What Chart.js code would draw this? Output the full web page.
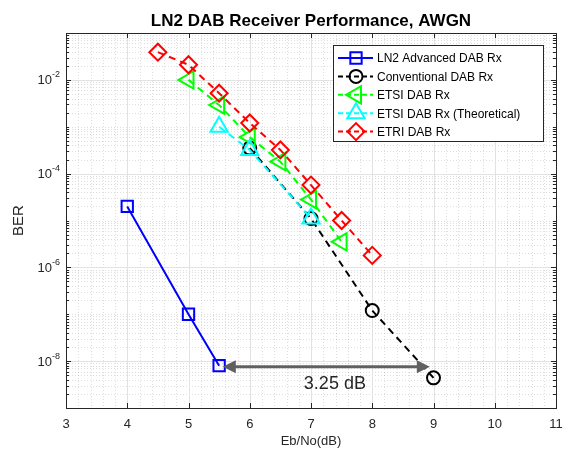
<!DOCTYPE html>
<html>
<head>
<meta charset="utf-8">
<script src="https://cdn.jsdelivr.net/npm/chart.js@4.4.1/dist/chart.umd.min.js"></script>
<style>
  html, body { margin: 0; padding: 0; background: #fff; }
  canvas { display: block; }
</style>
</head>
<body>
<canvas id="grafico" width="564" height="452"></canvas>
<script>
// ── DATOS ──────────────────────────────────────────────
const snrLn2 = [4, 5, 5.5];
const berLn2 = [2e-5, 1e-7, 8e-9];

const snrConv = [6, 7, 8, 9];
const berConv = [3.5e-4, 1.1e-5, 1.2e-7, 4.4e-9];

const snrEtsi = [5, 5.5, 6, 6.5, 7, 7.5];
const berEtsi = [1e-2, 2.9e-3, 6e-4, 1.8e-4, 2.8e-5, 3.5e-6];

const snrTeo = [5.5, 6, 7];
const berTeo = [1e-3, 3.2e-4, 1.1e-5];

const snrEtri = [4.5, 5, 5.5, 6, 6.5, 7, 7.5, 8];
const berEtri = [3.9e-2, 2.1e-2, 5.2e-3, 1.2e-3, 3.2e-4, 5.7e-5, 1e-5, 1.8e-6];

const xTicks = [3, 4, 5, 6, 7, 8, 9, 10, 11];
const yExpLabels = [-8, -6, -4, -2];

// flecha de ganancia
const flechaDesde = 5.56, flechaHasta = 8.94, flechaBer = 7.6e-9;
const textoGanancia = "3.25 dB", textoX = 7.39, textoBer = 3.3e-9;

const titulo = "LN2 DAB Receiver Performance, AWGN";
const FUENTE = "'Liberation Sans', Arial, sans-serif";
const GRIS = "#262626";

const series = [
  { label: "LN2 Advanced DAB Rx",         x: snrLn2,  y: berLn2,  color: "#0000ff", style: "rect",     r: 8,   rot: 0,   dash: [] },
  { label: "Conventional DAB Rx",         x: snrConv, y: berConv, color: "#000000", style: "circle",   r: 6.5, rot: 0,   dash: [7, 5] },
  { label: "ETSI DAB Rx",                 x: snrEtsi, y: berEtsi, color: "#00ff00", style: "triangle", r: 10,  rot: -90, dash: [7, 5] },
  { label: "ETSI DAB Rx (Theoretical)",   x: snrTeo,  y: berTeo,  color: "#00ffff", style: "triangle", r: 10,  rot: 0,   dash: [7, 5] },
  { label: "ETRI DAB Rx",                 x: snrEtri, y: berEtri, color: "#ff0000", style: "rectRot",  r: 8.5, rot: 0,   dash: [7, 5] },
];

const datasets = series.map((s, i) => ({
  label: s.label,
  data: s.x.map((v, k) => ({ x: v, y: s.y[k] })),
  showLine: true,
  borderColor: s.color,
  borderWidth: 2,
  borderDash: s.dash,
  pointStyle: s.style,
  pointRadius: s.r,
  pointRotation: s.rot,
  pointBorderColor: s.color,
  pointBackgroundColor: "rgba(0,0,0,0)",
  pointBorderWidth: 2,
  order: series.length - i,
}));

// ── EJES ESTILO MATLAB ──────────────────────────────────
function linea(ctx, x1, y1, x2, y2) {
  ctx.beginPath(); ctx.moveTo(x1, y1); ctx.lineTo(x2, y2); ctx.stroke();
}

const ejesMatlab = {
  id: "ejesMatlab",
  beforeDatasetsDraw(chart) {
    const { ctx, chartArea: { left, right, top, bottom }, scales: { x, y } } = chart;
    ctx.save();
    ctx.lineWidth = 1;

    // titulo centrado sobre el area
    ctx.fillStyle = "#000";
    ctx.font = "bold 17px " + FUENTE;
    ctx.textAlign = "center";
    ctx.textBaseline = "middle";
    ctx.fillText(titulo, (left + right) / 2, 21);

    // etiquetas del eje x
    ctx.fillStyle = GRIS;
    ctx.font = "13px " + FUENTE;
    xTicks.forEach(v => ctx.fillText(String(v), x.getPixelForValue(v), bottom + 16));

    // etiquetas del eje y con exponente
    ctx.textAlign = "right";
    yExpLabels.forEach(e => {
      const py = y.getPixelForValue(Math.pow(10, e));
      ctx.font = "9px " + FUENTE;
      const exp = "-" + Math.abs(e);
      ctx.fillText(exp, left - 6, py - 5);
      const we = ctx.measureText(exp).width;
      ctx.font = "13px " + FUENTE;
      ctx.fillText("10", left - 6 - we, py + 1);
    });

    // rejilla menor (punteada)
    ctx.strokeStyle = "rgba(0,0,0,0.13)";
    ctx.setLineDash([1, 2]);
    for (let i = 1; i < 40; i++) {
      if (i % 5 === 0) continue;
      const px = Math.round(x.getPixelForValue(3 + i * 0.2)) + 0.5;
      linea(ctx, px, top, px, bottom);
    }
    for (let e = -9; e <= -2; e++) {
      for (let k = 1; k <= 9; k++) {
        if (k === 1 && (e === -9 || e % 2 === 0)) continue;
        const py = Math.round(y.getPixelForValue(k * Math.pow(10, e))) + 0.5;
        linea(ctx, left, py, right, py);
      }
    }

    // rejilla mayor
    ctx.setLineDash([]);
    ctx.strokeStyle = "#e2e2e2";
    xTicks.slice(1, -1).forEach(v => {
      const px = Math.round(x.getPixelForValue(v)) + 0.5;
      linea(ctx, px, top, px, bottom);
    });
    yExpLabels.forEach(e => {
      const py = Math.round(y.getPixelForValue(Math.pow(10, e))) + 0.5;
      linea(ctx, left, py, right, py);
    });

    // marcas hacia dentro
    ctx.strokeStyle = GRIS;
    xTicks.slice(1, -1).forEach(v => {
      const px = Math.round(x.getPixelForValue(v)) + 0.5;
      linea(ctx, px, bottom, px, bottom - 5);
      linea(ctx, px, top, px, top + 5);
    });
    for (let e = -9; e <= -2; e++) {
      for (let k = 1; k <= 9; k++) {
        if (k === 1 && e === -9) continue;
        const largo = (k === 1 && e % 2 === 0) ? 5 : 3;
        const py = Math.round(y.getPixelForValue(k * Math.pow(10, e))) + 0.5;
        linea(ctx, left, py, left + largo, py);
        linea(ctx, right, py, right - largo, py);
      }
    }

    // caja
    ctx.strokeRect(Math.round(left) + 0.5, Math.round(top) + 0.5, Math.round(right - left), Math.round(bottom - top));
    ctx.restore();
  },

  afterDatasetsDraw(chart) {
    const { ctx, scales: { x, y } } = chart;
    ctx.save();

    // flecha doble
    const x1 = x.getPixelForValue(flechaDesde), x2 = x.getPixelForValue(flechaHasta);
    const fy = y.getPixelForValue(flechaBer);
    ctx.strokeStyle = "#606060";
    ctx.fillStyle = "#606060";
    ctx.lineWidth = 3;
    linea(ctx, x1 + 10, fy, x2 - 10, fy);
    ctx.beginPath();
    ctx.moveTo(x1, fy); ctx.lineTo(x1 + 13, fy - 6.5); ctx.lineTo(x1 + 13, fy + 6.5); ctx.closePath(); ctx.fill();
    ctx.beginPath();
    ctx.moveTo(x2, fy); ctx.lineTo(x2 - 13, fy - 6.5); ctx.lineTo(x2 - 13, fy + 6.5); ctx.closePath(); ctx.fill();

    ctx.fillStyle = GRIS;
    ctx.font = "18px " + FUENTE;
    ctx.textAlign = "center";
    ctx.textBaseline = "middle";
    ctx.fillText(textoGanancia, x.getPixelForValue(textoX), y.getPixelForValue(textoBer));

    // leyenda
    const bx = 333.5, by = 45.5, bw = 210, bh = 96;
    ctx.fillStyle = "#fff";
    ctx.fillRect(bx, by, bw, bh);
    ctx.strokeStyle = GRIS;
    ctx.lineWidth = 1;
    ctx.strokeRect(bx, by, bw, bh);
    ctx.font = "12px " + FUENTE;
    ctx.textAlign = "left";
    series.forEach((s, i) => {
      const ly = 58 + i * 18.4;
      ctx.strokeStyle = s.color;
      ctx.lineWidth = 2;
      ctx.setLineDash(s.dash.length ? [5, 3] : []);
      linea(ctx, 338, ly, 373, ly);
      ctx.setLineDash([]);
      ctx.fillStyle = "rgba(0,0,0,0)";
      Chart.helpers.drawPoint(ctx, { pointStyle: s.style, radius: s.r, rotation: s.rot, borderWidth: 2 }, 356, ly);
      ctx.fillStyle = "#000";
      ctx.fillText(s.label, 377, ly + 1);
    });
    ctx.restore();
  },
};

// ── GRAFICO ─────────────────────────────────────────────
new Chart(document.getElementById("grafico").getContext("2d"), {
  type: "scatter",
  data: { datasets },
  plugins: [ejesMatlab],
  options: {
    responsive: false,
    animation: false,
    devicePixelRatio: 1,
    layout: { autoPadding: false, padding: { left: 0, right: 8, top: 33, bottom: 0 } },
    plugins: {
      legend: { display: false },
      tooltip: { enabled: false },
      title: { display: false },
    },
    scales: {
      x: {
        type: "linear",
        min: 3, max: 11,
        afterBuildTicks: s => { s.ticks = xTicks.map(v => ({ value: v })); },
        afterFit: s => { s.height = 44; },
        grid: { display: false, drawTicks: false },
        border: { display: false },
        ticks: { display: false },
        title: { display: true, text: "Eb/No(dB)", color: GRIS, font: { family: FUENTE, size: 13 }, padding: { top: 2, bottom: 3 } },
      },
      y: {
        type: "logarithmic",
        min: 1e-9, max: 1e-1,
        afterBuildTicks: s => { s.ticks = yExpLabels.map(e => ({ value: Math.pow(10, e) })); },
        afterFit: s => { s.width = 66; },
        grid: { display: false, drawTicks: false },
        border: { display: false },
        ticks: { display: false },
        title: { display: true, text: "BER", color: GRIS, font: { family: FUENTE, size: 15 }, padding: { top: 10, bottom: 0 } },
      },
    },
  },
});
</script>
</body>
</html>
